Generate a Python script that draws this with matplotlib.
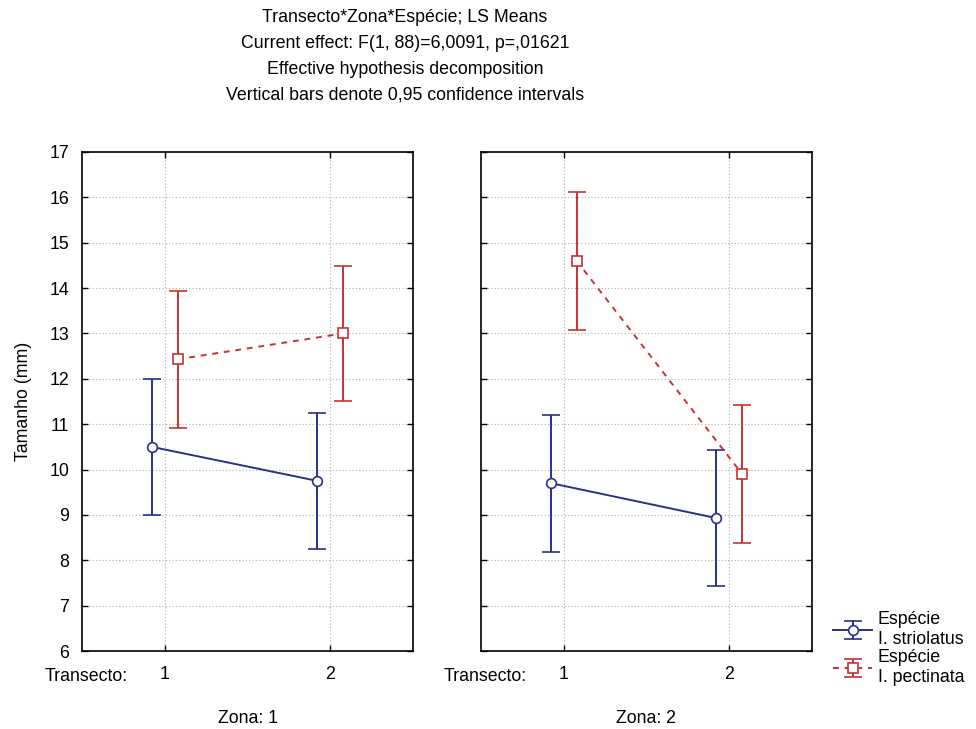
import matplotlib
matplotlib.use("Agg")
import matplotlib.pyplot as plt
import numpy as np

plt.rcParams['font.family'] = ['Liberation Sans', 'DejaVu Sans']

# LS means and 0.95 confidence half-widths per zone, transects 1 and 2
transectos = [1, 2]
zonas = ["Zona: 1", "Zona: 2"]

striolatus_mean = {1: [10.5, 9.75], 2: [9.7, 8.93]}
striolatus_ci = {1: [1.5, 1.5], 2: [1.51, 1.5]}
pectinata_mean = {1: [12.43, 13.0], 2: [14.6, 9.9]}
pectinata_ci = {1: [1.51, 1.49], 2: [1.52, 1.52]}

yticks = list(range(6, 18))
title_lines = [
    "Transecto*Zona*Espécie; LS Means",
    "Current effect: F(1, 88)=6,0091, p=,01621",
    "Effective hypothesis decomposition",
    "Vertical bars denote 0,95 confidence intervals",
]

blue = "#2b2f8c"
red = "#c83232"
fs = 12.8

fig = plt.figure(figsize=(9.76, 7.29), dpi=100)
W, H = 976, 729
bottom = (H - 651) / H
height = 499 / H
ax1 = fig.add_axes([82 / W, bottom, 331 / W, height])
ax2 = fig.add_axes([481 / W, bottom, 331 / W, height])

x = np.array(transectos, dtype=float)
off = 0.078
handles = []
for ax, z, zl in zip([ax1, ax2], [1, 2], zonas):
    h1 = ax.errorbar(x - off, striolatus_mean[z], yerr=striolatus_ci[z], color=blue,
                     lw=1.4, ls='-', marker='o', ms=7, mfc='white', mec=blue, mew=1.2,
                     capsize=6.5, capthick=1.4, elinewidth=1.4, zorder=3)
    h2 = ax.errorbar(x + off, pectinata_mean[z], yerr=pectinata_ci[z], color=red,
                     lw=1.4, ls=(0, (3, 3)), marker='s', ms=7, mfc='white', mec=red, mew=1.2,
                     capsize=6.5, capthick=1.4, elinewidth=1.4, zorder=3)
    handles = [h1, h2]
    ax.set_xlim(0.5, 2.5)
    ax.set_ylim(6, 17)
    ax.set_yticks(yticks)
    ax.set_xticks(transectos)
    ax.set_xticklabels([str(t) for t in transectos], fontsize=fs)
    ax.grid(True, color='#b0b0b0', ls=(0, (1, 2)), lw=0.8)
    ax.set_axisbelow(True)
    ax.tick_params(direction='in', length=4, width=1, top=True, right=True,
                   labelsize=fs)
    ax.tick_params(axis='x', pad=11)
    ax.tick_params(axis='y', pad=9)
    for s in ax.spines.values():
        s.set_linewidth(1.2)
    ax.text(0.139, -0.052, "Transecto:", transform=ax.transAxes, ha='right',
            va='center', fontsize=fs)
    ax.text(0.5, -0.136, zl, transform=ax.transAxes, ha='center',
            va='center', fontsize=fs)

ax2.set_yticklabels([])
ax1.set_ylabel("Tamanho (mm)", fontsize=fs, labelpad=13)

for i, line in enumerate(title_lines):
    fig.text(405 / W, 1 - (17 + 26 * i) / H, line, ha='center', va='center', fontsize=fs)

leg = fig.legend(handles, ["Espécie\nI. striolatus", "Espécie\nI. pectinata"],
                 loc='upper left', bbox_to_anchor=(826 / W, 1 - 604 / H),
                 frameon=False, fontsize=fs, handlelength=2.2, handletextpad=0.3,
                 labelspacing=0.1, borderaxespad=0)

fig.savefig("out.png", dpi=100)
